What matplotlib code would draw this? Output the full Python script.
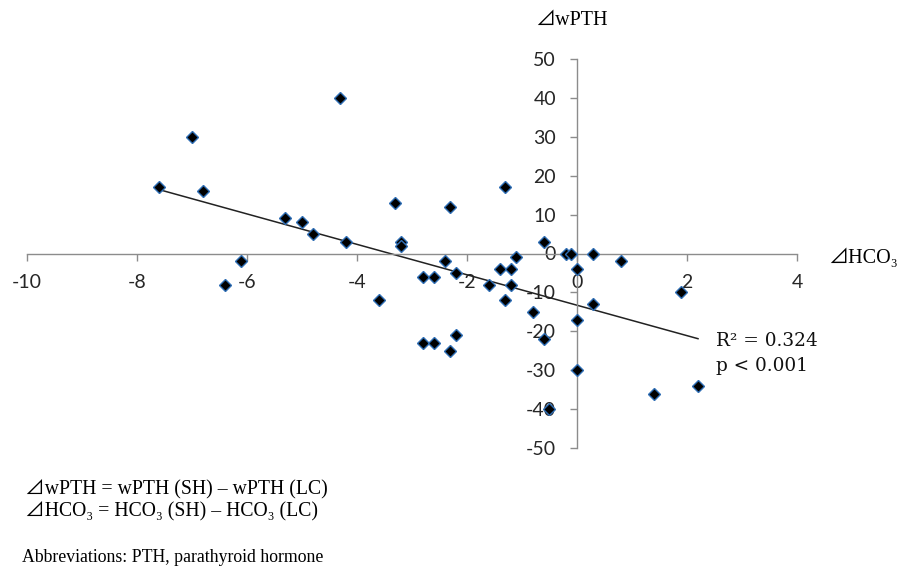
import numpy as np
import matplotlib
matplotlib.use('Agg')
import matplotlib.pyplot as plt

# delta HCO3 vs delta wPTH
d_hco3 = [-7.6, -7.0, -6.8, -6.1, -6.4, -5.3, -5.0, -4.8, -4.3, -4.2,
          -3.6, -3.3, -3.2, -3.2, -2.8, -2.6, -2.8, -2.6, -2.4, -2.3,
          -2.2, -2.3, -2.2, -1.6, -1.4, -1.2, -1.3, -1.1, -1.2, -1.3,
          -0.8, -0.6, -0.6, -0.5, -0.2, -0.1, 0.0, 0.3, 0.8, 1.9,
          0.3, 0.0, 0.0, 1.4, 2.2]
d_wpth = [17, 30, 16, -2, -8, 9, 8, 5, 40, 3,
          -12, 13, 3, 2, -6, -6, -23, -23, -2, 12,
          -5, -25, -21, -8, -4, -4, 17, -1, -8, -12,
          -15, -22, 3, -40, 0, 0, -4, 0, -2, -10,
          -13, -17, -30, -36, -34]
x_ticks = [-10, -8, -6, -4, -2, 0, 2, 4]
y_ticks = [-50, -40, -30, -20, -10, 0, 10, 20, 30, 40, 50]
r2_line = 'R\u00b2 = 0.324'
p_line = 'p < 0.001'

serif = ['Liberation Serif', 'Noto Sans CJK JP', 'DejaVu Serif']

fig = plt.figure(figsize=(9.09, 5.68), dpi=100)
ax = fig.add_axes([27 / 909, 1 - 448 / 568, 770 / 909, 389 / 568])

ax.plot(d_hco3, d_wpth, linestyle='none', marker='D', markersize=5.8,
        markerfacecolor='black', markeredgecolor='#2f6eb5', markeredgewidth=1, zorder=3)

# linear trend line
slope, icpt = np.polyfit(d_hco3, d_wpth, 1)
xs = np.array([min(d_hco3), max(d_hco3)])
ax.plot(xs, icpt + slope * xs, color='#222222', linewidth=1.1, zorder=2)

ax.set_xlim(-10, 4)
ax.set_ylim(-50, 50)
ax.set_xticks(x_ticks)
ax.set_yticks(y_ticks)
ax.set_xticklabels([str(v) for v in x_ticks])
ax.set_yticklabels([str(v) for v in y_ticks])

for side in ['top', 'right']:
    ax.spines[side].set_visible(False)
ax.spines['left'].set_position(('data', 0))
ax.spines['bottom'].set_position(('data', 0))
for side in ['left', 'bottom']:
    ax.spines[side].set_color('#8c8c8c')
    ax.spines[side].set_linewidth(1.0)
ax.tick_params(axis='both', direction='out', length=5, color='#8c8c8c',
               labelcolor='#262626', width=1.0, labelsize=14, labelfontfamily='Lato')
ax.tick_params(axis='x', pad=10)
ax.tick_params(axis='y', pad=10)

ax.text(2.53, -23.9, r2_line, fontsize=13.3, fontfamily='DejaVu Serif',
        va='baseline', ha='left', color='#111111')
ax.text(2.53, -30.1, p_line, fontsize=13.3, fontfamily='DejaVu Serif',
        va='baseline', ha='left', color='#111111')

fig.text(535 / 909, 1 - 20 / 568, '\u22bfwPTH', fontsize=14.5, family=serif,
         va='center', ha='left')
fig.text(828 / 909, 1 - 258 / 568, '\u22bfHCO\u2083', fontsize=14.5, family=serif,
         va='center', ha='left')

fig.text(25 / 909, 1 - 490 / 568, '\u22bfwPTH = wPTH (SH) \u2013 wPTH (LC)',
         fontsize=14.2, family=serif, va='center', ha='left')
fig.text(25 / 909, 1 - 512 / 568, '\u22bfHCO\u2083 = HCO\u2083 (SH) \u2013 HCO\u2083 (LC)',
         fontsize=14.2, family=serif, va='center', ha='left')
fig.text(22 / 909, 1 - 557 / 568, 'Abbreviations: PTH, parathyroid hormone',
         fontsize=12.8, family=serif, va='center', ha='left')

fig.savefig('out.png', dpi=100)
